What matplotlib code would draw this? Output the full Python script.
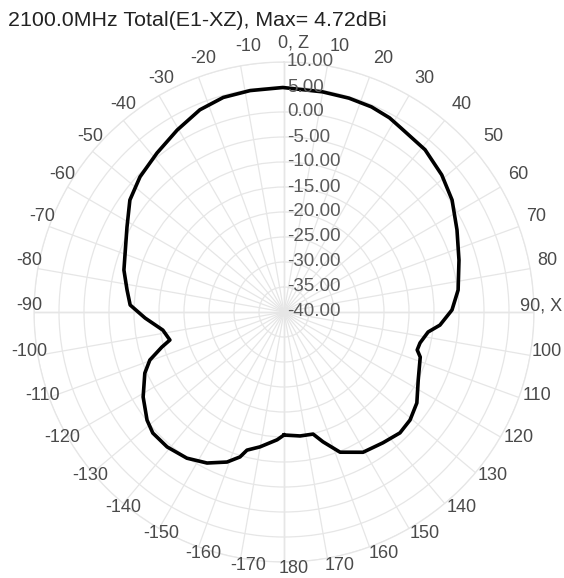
import numpy as np
import matplotlib
matplotlib.use("Agg")
import matplotlib.pyplot as plt

# ---- data ----
angles_deg = [-180, -176.9, -169.9, -165, -163.1, -159.2, -153, -146.4, -139.1, -132.7,
              -128.3, -121.1, -113.7, -109.7, -106, -103.8, -98.5, -92.5, -87.4, -82,
              -75.3, -69.6, -61.6, -54, -46.8, -38.6, -30.4, -22.6, -15.8, -8.7,
              -0.3, 9.9, 16.9, 23.1, 28.5, 32.5, 41, 49, 56.3, 64.6,
              73.5, 82.8, 89.3, 94.8, 97.9, 102.8, 105.9, 108.3, 116.9, 124.4,
              130.6, 136.2, 142.9, 150.6, 158.2, 163.3, 166.6, 172.6, 180]
gain_db = [-15.4, -14.4, -12.6, -11.4, -9.7, -7.9, -6.1, -4.9, -4.3, -4.3,
           -5.1, -7.1, -9.6, -11.5, -14.6, -16.5, -15.5, -12.2, -9.2, -8.3,
           -6.9, -6.1, -4.3, -1.9, -0.5, 0.7, 2.2, 3.8, 4.6, 4.8,
           4.9, 4.7, 4.7, 4.6, 4.2, 3.6, 3.0, 1.8, 0.4, -1.7,
           -3.5, -4.9, -6.4, -8.7, -10.9, -12.1, -12.3, -11.3, -9.9, -7.8,
           -6.8, -6.5, -7.2, -7.8, -9.8, -12.9, -14.9, -15.0, -15.4]
angle_ticks = list(range(-170, 181, 10))
radial_ticks = [10, 5, 0, -5, -10, -15, -20, -25, -30, -35, -40]
title = "2100.0MHz Total(E1-XZ), Max= 4.72dBi"

plt.rcParams['font.family'] = ['Liberation Sans', 'DejaVu Sans']

W, H = 564, 578
fig = plt.figure(figsize=(W / 100, H / 100), dpi=100)
cx, cy, R = 284, 312, 250
ax = fig.add_axes([(cx - R) / W, (H - cy - R) / H, 2 * R / W, 2 * R / H], projection='polar')
ax.set_theta_zero_location('N')
ax.set_theta_direction(-1)
ax.set_ylim(-40, 10)

grid_c = '#e6e6e6'
ax.set_thetagrids(range(0, 360, 10), labels=[])
ax.set_rgrids(list(range(-35, 11, 5)), labels=[])
ax.grid(True, color=grid_c, linewidth=0.9)
ax.spines['polar'].set_color(grid_c)
ax.spines['polar'].set_linewidth(0.9)
ax.tick_params(length=0)

# main axes lines (radial)
for a in (0, 90, 180, -90):
    ax.plot([np.radians(a)] * 2, [-40, 10], color='#c8c8c8', lw=0.9, zorder=1)

# curve
th = np.radians(angles_deg)
ax.plot(th, gain_db, color='black', lw=2.6, zorder=5)

# angle labels
pt = 72 / 100
for a in angle_ticks:
    t = np.radians(a)
    if a == 0:
        s = '0, Z'
    elif a == 90:
        s = '90, X'
    else:
        s = str(a)
    if a == 90:
        out = 4
    elif a == -90:
        out = 8
    else:
        out = 13
    dx = out * np.sin(t) + 3 + 7 * abs(np.cos(t))
    dy = out * np.cos(t) + 6
    ax.annotate(s, xy=(t, 10), xytext=(dx * pt, dy * pt), textcoords='offset points',
                ha='center', va='center', fontsize=13, color='#4a4a4a',
                annotation_clip=False, zorder=6)

# radial labels
for v in radial_ticks:
    ax.annotate(f"{v:.2f}", xy=(0, v), xytext=(3 * pt, 0), textcoords='offset points',
                ha='left', va='center', fontsize=13.5, color='#5a5a5a',
                annotation_clip=False, zorder=6)

fig.text(8 / W, 1 - 20 / H, title, ha='left', va='center', fontsize=15.4, color='#222222')

fig.savefig('out.png', dpi=100)
